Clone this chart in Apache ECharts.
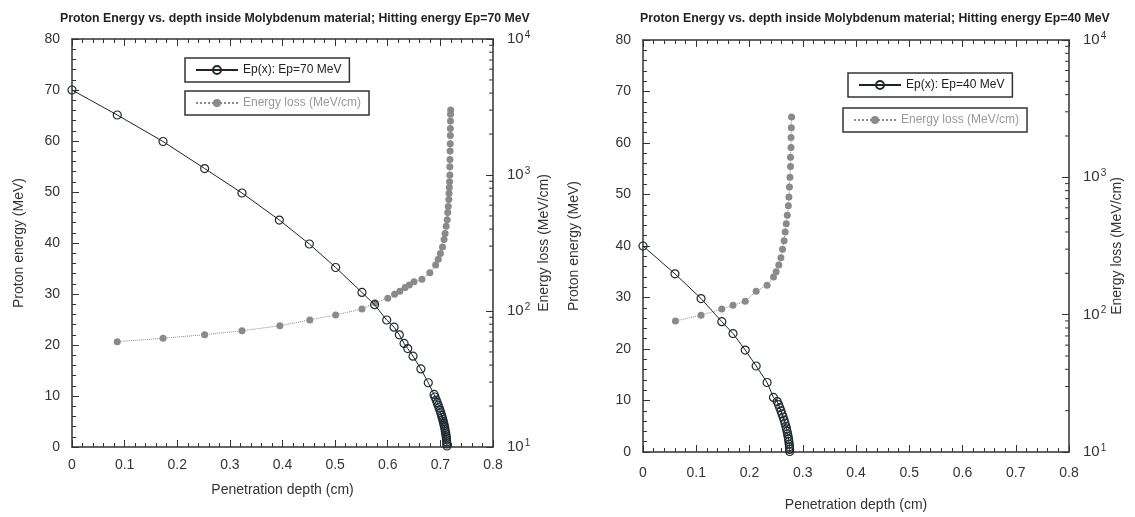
<!DOCTYPE html>
<html><head><meta charset="utf-8">
<script src="https://cdn.jsdelivr.net/npm/echarts@6/dist/echarts.min.js"></script>
<style>html,body{margin:0;padding:0;background:#fff}#c{width:1135px;height:517px}</style>
</head><body><div id="c"></div>
<script>
// ---------- data ----------
const titleLeft = 'Proton Energy vs. depth inside Molybdenum material; Hitting energy Ep=70 MeV';
const titleRight = 'Proton Energy vs. depth inside Molybdenum material; Hitting energy Ep=40 MeV';
const nameEp70 = 'Ep(x): Ep=70 MeV';
const nameEp40 = 'Ep(x): Ep=40 MeV';
const nameLoss = 'Energy loss (MeV/cm)';
const xName = 'Penetration depth (cm)';
const yNameLeft = 'Proton energy (MeV)';
const yNameRight = 'Energy loss (MeV/cm)';

// Ep = 70 MeV
const depth70 = [0, 0.086, 0.173, 0.252, 0.323, 0.394, 0.451, 0.501, 0.551, 0.575, 0.598, 0.612, 0.622, 0.631, 0.638, 0.648, 0.663, 0.677, 0.688,
  0.6897, 0.6921, 0.694, 0.6958, 0.6975, 0.6992, 0.7008, 0.7023, 0.7034, 0.7045, 0.7055, 0.7064, 0.7073, 0.7082, 0.7089, 0.7096, 0.7103, 0.7108, 0.7113, 0.7117, 0.7121, 0.7123, 0.7125];
const ep70 = [70, 65.1, 59.9, 54.6, 49.8, 44.5, 39.8, 35.2, 30.3, 27.9, 24.9, 23.5, 22.0, 20.3, 19.3, 17.8, 15.3, 12.6, 10.3,
  9.8, 9.2, 8.7, 8.2, 7.7, 7.2, 6.7, 6.2, 5.8, 5.4, 5.0, 4.6, 4.2, 3.8, 3.4, 3.0, 2.6, 2.2, 1.8, 1.4, 1.0, 0.6, 0.2];
const lossDepth70 = [0.086, 0.173, 0.252, 0.323, 0.395, 0.452, 0.501, 0.551, 0.576, 0.600, 0.613, 0.623, 0.633, 0.641, 0.650, 0.665, 0.680, 0.691,
  0.696, 0.700, 0.704, 0.707, 0.709, 0.711, 0.713, 0.714, 0.715, 0.716, 0.7165, 0.717, 0.7175, 0.718, 0.718, 0.7183, 0.7185, 0.7187, 0.719, 0.719, 0.7192, 0.7193, 0.7195];
const loss70 = [59.5, 63, 67, 71.5, 78, 86, 93.5, 103.5, 115, 124, 133, 140, 149, 155, 164, 171, 191, 218,
  240, 265, 296, 335, 371, 420, 468, 530, 587, 660, 733, 810, 891, 1000, 1150, 1300, 1500, 1700, 1950, 2200, 2500, 2800, 3000];

// Ep = 40 MeV
const depth40 = [0, 0.060, 0.109, 0.148, 0.169, 0.192, 0.2125, 0.233, 0.245,
  0.2520, 0.2545, 0.2568, 0.2590, 0.2611, 0.2631, 0.2650, 0.2667, 0.2683, 0.2695, 0.2706, 0.2716, 0.2725, 0.2734, 0.2740, 0.2746, 0.2751, 0.2754, 0.2755];
const ep40 = [40, 34.6, 29.8, 25.3, 23.0, 19.8, 16.7, 13.5, 10.6,
  9.8, 9.2, 8.6, 8.0, 7.4, 6.8, 6.2, 5.6, 5.0, 4.5, 4.0, 3.5, 3.0, 2.5, 2.0, 1.5, 1.0, 0.5, 0.1];
const lossDepth40 = [0.061, 0.109, 0.148, 0.169, 0.192, 0.2125, 0.233, 0.245, 0.250, 0.255, 0.259, 0.262, 0.265, 0.267, 0.269, 0.271, 0.273, 0.274, 0.275, 0.276, 0.277, 0.277, 0.278, 0.278, 0.2785, 0.279];
const loss40 = [90, 99, 110, 117, 125, 148, 164, 188, 205, 230, 260, 300, 345, 400, 460, 530, 620, 720, 850, 1000, 1200, 1400, 1650, 1950, 2300, 2750];

const xMin = 0, xMax = 0.8, xStep = 0.1;
const yMin = 0, yMax = 80, yStep = 10;
const logMin = 10, logMax = 10000;

// log minor tick values (2..9 x 10^k)
const logMinor = [];
for (let k = 1; k < 4; k++) for (let m = 2; m <= 9; m++) logMinor.push(m * Math.pow(10, k));

// ---------- chart ----------
const FONT = 'Liberation Sans, Arial, sans-serif';
const AX = '#333';
const pair = (xs, ys) => xs.map((x, i) => [x, ys[i]]);

function xAxis(grid, pos, nameGap, labelMargin) {
  const bottom = pos === 'bottom';
  return {
    type: 'value', gridIndex: grid, position: pos, min: xMin, max: xMax, interval: xStep,
    name: bottom ? xName : '', nameLocation: 'middle', nameGap: nameGap,
    nameTextStyle: { fontFamily: FONT, fontSize: 14, color: '#333' },
    axisLine: { show: true, onZero: false, lineStyle: { color: AX, width: 1.5 } },
    axisTick: { show: true, inside: true, length: 7, lineStyle: { color: AX, width: 1 } },
    minorTick: { show: true, splitNumber: 5, length: 4, lineStyle: { color: AX, width: 1 } },
    axisLabel: { show: bottom, margin: labelMargin, fontFamily: FONT, fontSize: 14, color: '#333' },
    splitLine: { show: false }
  };
}
function yLin(grid, nameGap) {
  return {
    type: 'value', gridIndex: grid, position: 'left', min: yMin, max: yMax, interval: yStep,
    name: yNameLeft, nameLocation: 'middle', nameGap: nameGap,
    nameTextStyle: { fontFamily: FONT, fontSize: 14, color: '#333' },
    axisLine: { show: true, onZero: false, lineStyle: { color: AX, width: 1.5 } },
    axisTick: { show: true, inside: true, length: 7, lineStyle: { color: AX, width: 1 } },
    minorTick: { show: true, splitNumber: 5, length: 4, lineStyle: { color: AX, width: 1 } },
    axisLabel: { margin: 12, fontFamily: FONT, fontSize: 14, color: '#333' },
    splitLine: { show: false }
  };
}
function yLog(grid, nameGap) {
  return {
    type: 'log', logBase: 10, gridIndex: grid, position: 'right', min: logMin, max: logMax, splitNumber: 3,
    name: yNameRight, nameLocation: 'middle', nameGap: nameGap,
    nameTextStyle: { fontFamily: FONT, fontSize: 14, color: '#333' },
    axisLine: { show: true, onZero: false, lineStyle: { color: AX, width: 1.5 } },
    axisTick: { show: true, inside: true, length: 7, lineStyle: { color: AX, width: 1 } },
    axisLabel: {
      margin: 14,
      formatter: v => '{b|10}{s|' + Math.round(Math.log10(v)) + '}',
      rich: {
        b: { fontFamily: FONT, fontSize: 15, color: '#333', lineHeight: 18 },
        s: { fontFamily: FONT, fontSize: 10, color: '#333', verticalAlign: 'top', lineHeight: 18, padding: [0, 0, 6, 1] }
      }
    },
    splitLine: { show: false }
  };
}
function minorLogSeries(xi, yi) {
  return {
    type: 'custom', xAxisIndex: xi, yAxisIndex: yi, silent: true, z: 1,
    data: logMinor.map(v => [xMax, v]),
    renderItem: (params, api) => {
      const p = api.coord([api.value(0), api.value(1)]);
      return { type: 'line', shape: { x1: p[0] - 4, y1: p[1], x2: p[0], y2: p[1] }, style: { stroke: AX, lineWidth: 1 } };
    }
  };
}
function epSeries(name, xi, yi, xs, ys) {
  return {
    name: name, type: 'line', xAxisIndex: xi, yAxisIndex: yi, data: pair(xs, ys),
    symbol: 'circle', symbolSize: 8, showAllSymbol: true, z: 4,
    lineStyle: { color: '#222', width: 1 },
    itemStyle: { color: 'rgba(255,255,255,0)', borderColor: '#1e2a33', borderWidth: 1.2 },
    animation: false
  };
}
function lossSeries(xi, yi, xs, ys) {
  return {
    name: nameLoss, type: 'line', xAxisIndex: xi, yAxisIndex: yi, data: pair(xs, ys),
    symbol: 'circle', symbolSize: 7, showAllSymbol: true, z: 3,
    lineStyle: { color: '#8a8a8a', width: 1, type: 'dotted' },
    itemStyle: { color: '#8a8a8a' },
    animation: false
  };
}
function legendBox(name, left, top, textColor) {
  return {
    data: [name], left: left, top: top, orient: 'horizontal',
    itemWidth: 42, itemHeight: 10, padding: [6, 8, 6, 10],
    borderColor: '#333', borderWidth: 1.5, backgroundColor: '#fff',
    textStyle: { fontFamily: FONT, fontSize: 12, color: textColor },
    selectedMode: false
  };
}

const chart = echarts.init(document.getElementById('c'), null, { renderer: 'canvas' });
chart.setOption({
  animation: false,
  backgroundColor: '#fff',
  title: [
    { text: titleLeft, left: 55, top: 8, textStyle: { fontFamily: FONT, fontSize: 12.3, fontWeight: 'bold', color: '#222' } },
    { text: titleRight, left: 635, top: 8, textStyle: { fontFamily: FONT, fontSize: 12.3, fontWeight: 'bold', color: '#222' } }
  ],
  legend: [
    legendBox(nameEp70, 185, 58, '#222'),
    legendBox(nameLoss, 185, 91, '#999'),
    legendBox(nameEp40, 848, 73, '#222'),
    legendBox(nameLoss, 843, 108, '#999')
  ],
  grid: [
    { left: 72, top: 39, width: 421, height: 408 },
    { left: 643, top: 40, width: 426, height: 413 }
  ],
  xAxis: [
    xAxis(0, 'bottom', 36, 11),
    xAxis(0, 'top', 0, 8),
    xAxis(1, 'bottom', 46, 14),
    xAxis(1, 'top', 0, 8)
  ],
  yAxis: [
    yLin(0, 46),
    yLog(0, 44),
    yLin(1, 62),
    yLog(1, 40)
  ],
  series: [
    minorLogSeries(0, 1),
    minorLogSeries(2, 3),
    lossSeries(0, 1, lossDepth70, loss70),
    epSeries(nameEp70, 0, 0, depth70, ep70),
    lossSeries(2, 3, lossDepth40, loss40),
    epSeries(nameEp40, 2, 2, depth40, ep40)
  ]
});
</script>
</body></html>
